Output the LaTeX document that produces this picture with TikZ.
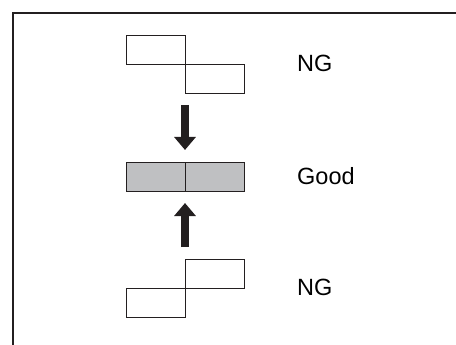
\documentclass[tikz,border=0pt]{standalone}
\usepackage{fontspec}
\setmainfont{Liberation Sans}
\usetikzlibrary{arrows.meta}
\definecolor{ink}{HTML}{231F20}
\definecolor{barfill}{HTML}{BFC0C2}
\begin{document}
\begin{tikzpicture}[x=1pt,y=-1pt,
  plate/.style={draw=ink,line width=1pt,inner sep=0pt,minimum width=59pt,minimum height=29pt,anchor=north west},
  goodplate/.style={plate,fill=barfill},
  lbl/.style={inner sep=0pt,anchor=base west,font=\fontsize{23.5}{28}\selectfont},
  bigarrow/.style={draw=ink,line width=8.6pt,-{Triangle[width=21pt,length=13pt]}}]
\useasboundingbox (0,0) rectangle (456,345);
\draw[ink,line width=1.3pt] (13,345) -- (13,13) -- (456,13);
% top NG pair
\node[plate] (t1) at (126,35) {};
\node[plate] (t2) at (185,64) {};
% good pair
\node[goodplate] (g1) at (126,161.7) {};
\node[goodplate] (g2) at (185,161.7) {};
% bottom NG pair
\node[plate] (b1) at (185,259) {};
\node[plate] (b2) at (126,288) {};
% labels
\node[lbl] (ngtop) at (297,71.7) {NG};
\node[lbl] (good) at (297,185) {Good};
\node[lbl] (ngbot) at (297,295) {NG};
% arrows
\coordinate (dstart) at (185,105);
\coordinate (dend) at (185,150);
\coordinate (ustart) at (185,247);
\coordinate (uend) at (185,203);
\draw[bigarrow] (dstart) -- (dend);
\draw[bigarrow] (ustart) -- (uend);
\end{tikzpicture}
\end{document}
